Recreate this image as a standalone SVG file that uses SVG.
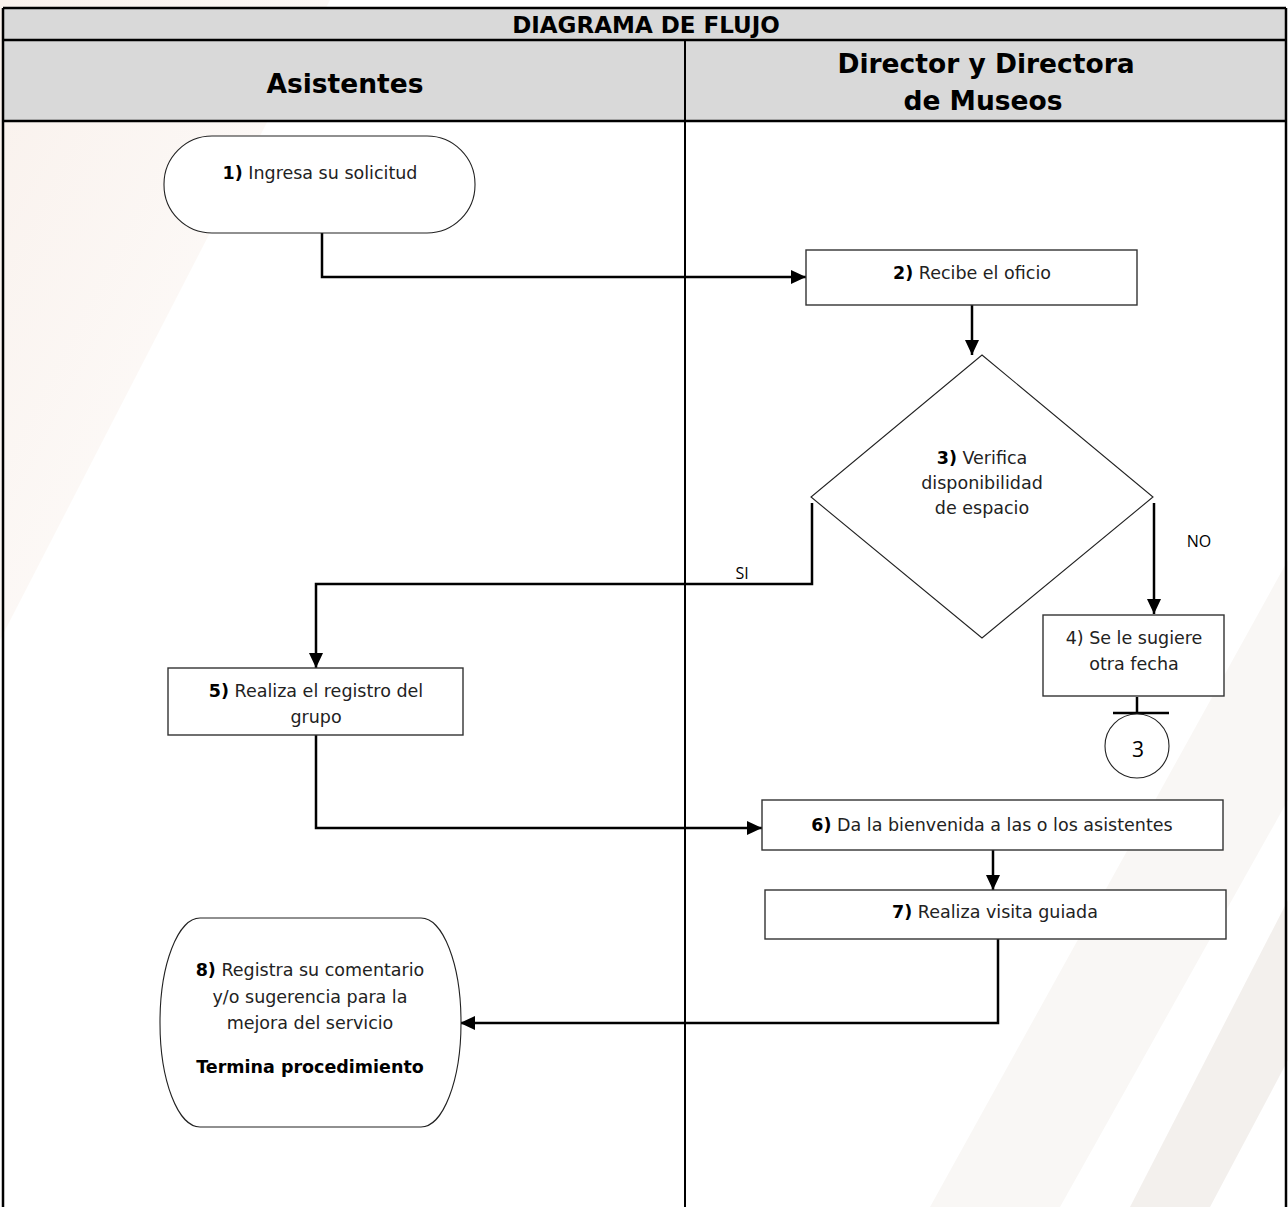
<svg xmlns="http://www.w3.org/2000/svg" width="1288" height="1207" viewBox="0 0 1288 1207">
  <style>
    .hdr { fill: #d9d9d9; stroke: none; }
    .grid { stroke: #000; stroke-width: 2.5; fill: none; }
    .lane { stroke: #000; stroke-width: 2; fill: none; }
    .box { fill: #fff; stroke: #333; stroke-width: 1.4; }
    .thin { fill: #fff; stroke: #222; stroke-width: 1.1; }
    .t { font-family: "DejaVu Sans", sans-serif; font-size: 17.5px; fill: #222; text-anchor: middle; }
    .b { font-weight: bold; fill: #000; }
    .h1 { font-family: "DejaVu Sans", sans-serif; font-size: 23px; font-weight: bold; fill: #000; text-anchor: middle; }
    .h2 { font-family: "DejaVu Sans", sans-serif; font-size: 26.5px; font-weight: bold; fill: #000; text-anchor: middle; }
    .lbl { font-family: "Open Sans", "Liberation Sans", sans-serif; font-size: 16px; fill: #000; text-anchor: middle; }
    .conn { stroke: #000; stroke-width: 2.5; fill: none; }
  </style>
  <defs>
    <marker id="arr" markerUnits="userSpaceOnUse" markerWidth="16" markerHeight="16" refX="15" refY="8" orient="auto">
      <path d="M0,1 L15,8 L0,15 z" fill="#000"/>
    </marker>
    <linearGradient id="wm1" x1="0" y1="0" x2="1" y2="1">
      <stop offset="0" stop-color="#f9f1ec"/>
      <stop offset="1" stop-color="#ffffff"/>
    </linearGradient>
  </defs>

  <!-- background watermark -->
  <g id="background">
    <rect x="0" y="0" width="1288" height="1207" fill="#fff"/>
    <polygon points="0,0 330,0 0,640" fill="url(#wm1)"/>
    <polygon points="1288,560 1288,800 1060,1207 930,1207" fill="#f9f7f5"/>
    <polygon points="1288,900 1288,1060 1210,1207 1130,1207" fill="#f3f0ed"/>
  </g>

  <!-- table -->
  <g id="table">
    <rect class="hdr" x="3" y="8" width="1283" height="113"/>
    <line class="grid" x1="3" y1="8" x2="1286" y2="8"/>
    <line class="grid" x1="3" y1="40" x2="1286" y2="40"/>
    <line class="grid" x1="3" y1="121" x2="1286" y2="121"/>
    <line class="grid" x1="3" y1="8" x2="3" y2="1207"/>
    <line class="grid" x1="1286" y1="8" x2="1286" y2="1207"/>
    <line class="lane" x1="685" y1="40" x2="685" y2="1207"/>
    <text class="h1" x="646" y="33">DIAGRAMA DE FLUJO</text>
    <text class="h2" x="345" y="93">Asistentes</text>
    <text class="h2" x="986" y="73">Director y Directora</text>
    <text class="h2" x="983" y="110">de Museos</text>
  </g>

  <!-- connectors -->
  <g id="connectors">
    <path class="conn" d="M322,233 V277 H806" marker-end="url(#arr)"/>
    <path class="conn" d="M972,305 V355" marker-end="url(#arr)"/>
    <path class="conn" d="M812,503 V584 H316 V668" marker-end="url(#arr)"/>
    <path class="conn" d="M1154,503 V614" marker-end="url(#arr)"/>
    <path class="conn" d="M1137,697 V713"/>
    <path class="conn" d="M316,735 V828 H762" marker-end="url(#arr)"/>
    <path class="conn" d="M993,850 V890" marker-end="url(#arr)"/>
    <path class="conn" d="M998,939 V1023 H460" marker-end="url(#arr)"/>
    <text class="lbl" x="742" y="579">SI</text>
    <text class="lbl" x="1199" y="547">NO</text>
  </g>

  <g id="node1">
    <rect class="thin" x="164" y="136" width="311" height="97" rx="48" ry="48"/>
    <text class="t" x="320" y="179"><tspan class="b">1)</tspan> Ingresa su solicitud</text>
  </g>

  <g id="node2">
    <rect class="box" x="806" y="250" width="331" height="55"/>
    <text class="t" x="972" y="279"><tspan class="b">2)</tspan> Recibe el oficio</text>
  </g>

  <g id="node3">
    <polygon class="thin" points="982,355 1153,497 982,638 811,497"/>
    <text class="t" x="982" y="464"><tspan class="b">3)</tspan> Verifica</text>
    <text class="t" x="982" y="489">disponibilidad</text>
    <text class="t" x="982" y="514">de espacio</text>
  </g>

  <g id="node4">
    <rect class="box" x="1043" y="615" width="181" height="81"/>
    <text class="t" x="1134" y="644">4) Se le sugiere</text>
    <text class="t" x="1134" y="670">otra fecha</text>
  </g>

  <g id="offpage3">
    <line class="conn" x1="1113" y1="713" x2="1169" y2="713"/>
    <circle class="thin" cx="1137" cy="746" r="32"/>
    <text class="lbl" x="1138" y="757" style="font-size:21px">3</text>
  </g>

  <g id="node5">
    <rect class="box" x="168" y="668" width="295" height="67"/>
    <text class="t" x="316" y="697"><tspan class="b">5)</tspan> Realiza el registro del</text>
    <text class="t" x="316" y="723">grupo</text>
  </g>

  <g id="node6">
    <rect class="box" x="762" y="800" width="461" height="50"/>
    <text class="t" x="992" y="831"><tspan class="b">6)</tspan> Da la bienvenida a las o los asistentes</text>
  </g>

  <g id="node7">
    <rect class="box" x="765" y="890" width="461" height="49"/>
    <text class="t" x="995" y="918"><tspan class="b">7)</tspan> Realiza visita guiada</text>
  </g>

  <g id="node8">
    <rect class="thin" x="160" y="918" width="301" height="209" rx="40" ry="104"/>
    <text class="t" x="310" y="976"><tspan class="b">8)</tspan> Registra su comentario</text>
    <text class="t" x="310" y="1003">y/o sugerencia para la</text>
    <text class="t" x="310" y="1029">mejora del servicio</text>
    <text class="t b" x="310" y="1073">Termina procedimiento</text>
  </g>
</svg>
